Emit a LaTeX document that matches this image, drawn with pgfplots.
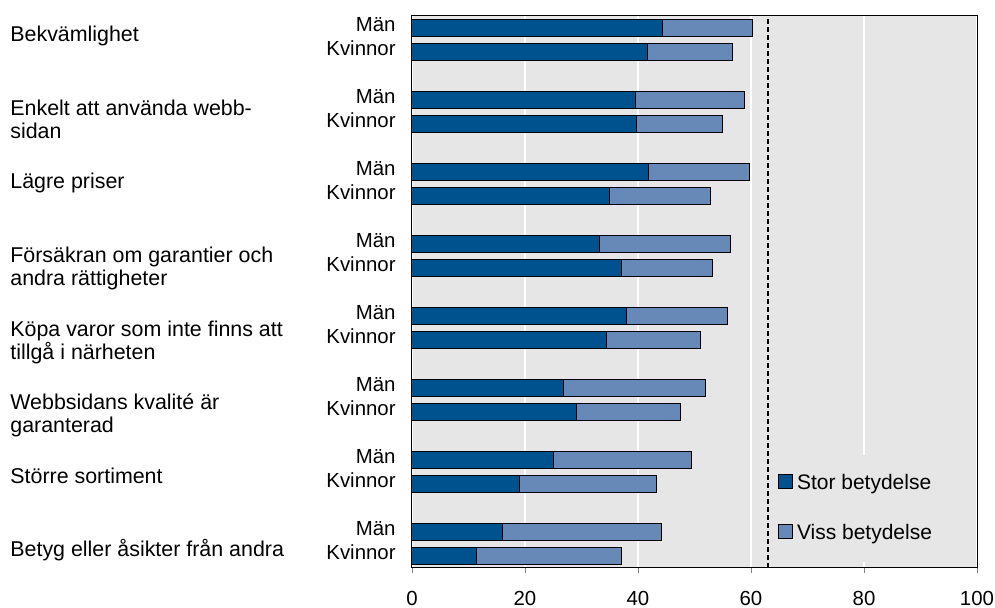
\documentclass[border=0pt]{standalone}
\usepackage{fontspec}
\setmainfont{Liberation Sans}
\usepackage{pgfplots}
\usepackage{pgfplotstable}
\pgfplotsset{compat=1.18}
\definecolor{dblue}{HTML}{00528F}
\definecolor{lblue}{HTML}{6789B8}
\definecolor{bggray}{HTML}{E6E6E6}
\tikzset{lbl/.style={anchor=base west, inner sep=0pt, font=\fontsize{10.7}{12.5}\selectfont}}

\pgfplotstableread{
y stor viss
22 44.3 15.9
21 41.6 15.1
19 39.6 19.3
18 39.8 15.1
16 41.8 18.0
15 35.0 17.9
13 33.2 23.1
12 37.0 16.2
10 38.0 17.8
9 34.5 16.5
7 26.8 25.1
6 29.2 18.3
4 25.0 24.5
3 19.0 24.2
1 16.0 28.1
0 11.4 25.6
}\datatab

\begin{document}
\begin{tikzpicture}
\begin{axis}[
  scale only axis, width=282.5pt, height=276pt,
  xmin=0, xmax=100, ymin=-0.5, ymax=22.5,
  xbar stacked, bar width=8.65pt,
  legend image code/.code={\draw[#1,draw=black,line width=0.5pt] (0pt,-2.6pt) rectangle (7pt,4.4pt);},
  axis background/.style={fill=bggray},
  axis line style={black, line width=0.5pt},
  tickpos=left, tick align=outside, major tick length=2.5pt,
  xtick={0,20,...,100},
  xmajorgrids, major grid style={white, line width=1pt},
  extra x ticks={63}, extra x tick labels={},
  extra x tick style={major grid style={black, dash pattern=on 2.5pt off 1.5pt, line width=0.55pt}, major tick length=0pt},
  ytick={0,1,3,4,6,7,9,10,12,13,15,16,18,19,21,22},
  yticklabels={Kvinnor,Män,Kvinnor,Män,Kvinnor,Män,Kvinnor,Män,Kvinnor,Män,Kvinnor,Män,Kvinnor,Män,Kvinnor,Män},
  ytick style={draw=none},
  /pgf/number format/assume math mode=true,
  ticklabel style={font=\fontsize{10.2}{12}\selectfont},
  xticklabel style={yshift=-5.5pt},
  yticklabel style={anchor=base east, inner sep=0pt, xshift=-5.5pt, yshift=-1.8pt},
  clip=false,
  legend style={at={(axis cs:64,4.24)}, anchor=north west, fill=bggray, draw=none,
    font=\fontsize{10.5}{12}\selectfont, row sep=11.5pt, inner xsep=2pt, inner ysep=8pt,
    /tikz/every even column/.append style={column sep=1.5pt}},
  legend cell align=left,
]
\addplot[fill=dblue, draw=black, line width=0.5pt] table[x=stor, y=y] {\datatab};
\addlegendentry{Stor betydelse}
\addplot[fill=lblue, draw=black, line width=0.5pt] table[x=viss, y=y] {\datatab};
\addlegendentry{Viss betydelse}
\coordinate (O) at (rel axis cs:0,0);
\node[lbl] at ([xshift=-201pt]axis cs:0,21.42) {Bekvämlighet};
\node[lbl] at ([xshift=-201pt]axis cs:0,18.37) {Enkelt att använda webb-};
\node[lbl] at ([xshift=-201pt]axis cs:0,17.41) {sidan};
\node[lbl] at ([xshift=-201pt]axis cs:0,15.33) {Lägre priser};
\node[lbl] at ([xshift=-201pt]axis cs:0,12.21) {Försäkran om garantier och};
\node[lbl] at ([xshift=-201pt]axis cs:0,11.25) {andra rättigheter};
\node[lbl] at ([xshift=-201pt]axis cs:0,9.13) {Köpa varor som inte finns att};
\node[lbl] at ([xshift=-201pt]axis cs:0,8.17) {tillgå i närheten};
\node[lbl] at ([xshift=-201pt]axis cs:0,6.09) {Webbsidans kvalité är};
\node[lbl] at ([xshift=-201pt]axis cs:0,5.13) {garanterad};
\node[lbl] at ([xshift=-201pt]axis cs:0,3.04) {Större sortiment};
\node[lbl] at ([xshift=-201pt]axis cs:0,-0.01) {Betyg eller åsikter från andra};
\end{axis}
\pgfresetboundingbox
\path (O) ++(-206pt,-20pt) rectangle ++(497.5pt,304pt);
\end{tikzpicture}
\end{document}
